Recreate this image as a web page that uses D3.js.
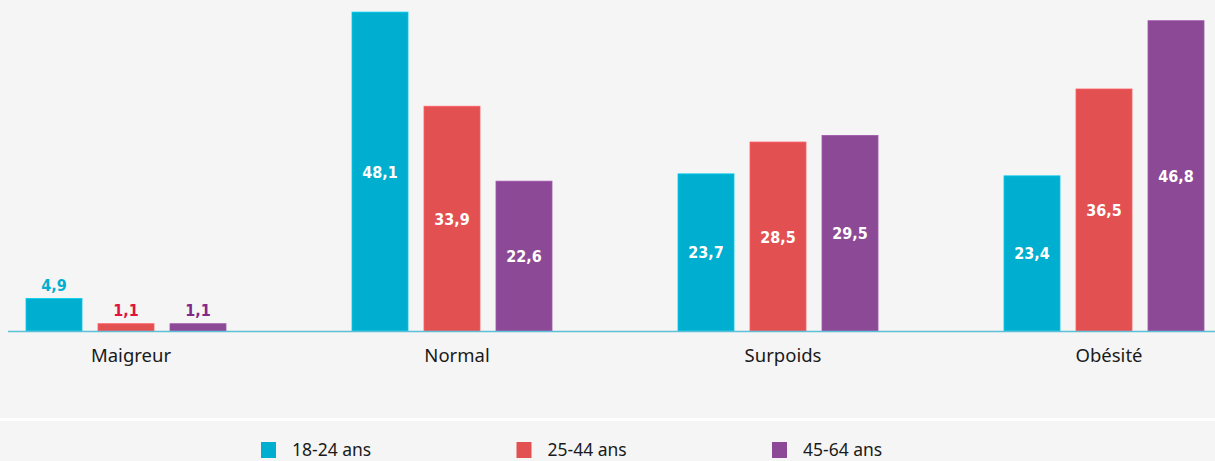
<!DOCTYPE html>
<html>
<head>
<meta charset="utf-8">
<script src="https://cdn.jsdelivr.net/npm/d3@7"></script>
<style>
  html, body { margin: 0; padding: 0; background: #f5f5f5; }
  svg { display: block; }
  .cat { font-family: "Noto Sans", "Open Sans", sans-serif; font-size: 18.5px; fill: #1a1a1a; }
  .val { font-family: "Liberation Sans Narrow", "DejaVu Sans Condensed", sans-serif; font-weight: bold; font-size: 16px; }
  .leg { font-family: "Noto Sans", "Open Sans", sans-serif; font-size: 17.5px; fill: #1a1a1a; }
</style>
</head>
<body>
<svg id="chart" width="1215" height="461"></svg>
<script>
// data
var categories = ["Maigreur", "Normal", "Surpoids", "Obésité"];
var series = ["18-24 ans", "25-44 ans", "45-64 ans"];
var v1824 = [4.9, 48.1, 23.7, 23.4];
var v2544 = [1.1, 33.9, 28.5, 36.5];
var v4564 = [1.1, 22.6, 29.5, 46.8];
var barColors = ["#00afcf", "#e35052", "#8c4a96"];
var labelColors = ["#00afcf", "#e0143f", "#82288a"];

var width = 1215, height = 461;
var baseY = 331;

var svg = d3.select("#chart");

// white separator above the legend
svg.append("rect").attr("x", 0).attr("y", 418).attr("width", width).attr("height", 3).attr("fill", "#ffffff");

var x0 = d3.scaleBand().domain(categories).range([26, 1204]).paddingInner(126 / 326).paddingOuter(0);
var x1 = d3.scaleBand().domain(series).range([0, x0.bandwidth()]).paddingInner(16 / 72).paddingOuter(0);
var y = d3.scaleLinear().domain([0, 50]).range([baseY, baseY - 50 * 6.63]);
var color = d3.scaleOrdinal().domain(series).range(barColors);
var lblColor = d3.scaleOrdinal().domain(series).range(labelColors);

var rows = categories.map(function (c, i) {
    return {cat: c, vals: [
        {s: series[0], v: v1824[i]},
        {s: series[1], v: v2544[i]},
        {s: series[2], v: v4564[i]}
    ]};
});

var groups = svg.selectAll("g.grp").data(rows).join("g")
    .attr("class", "grp")
    .attr("transform", function (d) { return "translate(" + x0(d.cat) + ",0)"; });

groups.selectAll("rect").data(function (d) { return d.vals; }).join("rect")
    .attr("x", function (d) { return x1(d.s); })
    .attr("y", function (d) { return y(d.v); })
    .attr("width", x1.bandwidth())
    .attr("height", function (d) { return baseY - y(d.v); })
    .attr("fill", function (d) { return color(d.s); })
    .attr("stroke", function (d) { return d3.color(color(d.s)).brighter(0.4); })
    .attr("stroke-width", 0.8);

// value labels: inside (white) for tall bars, above (coloured) for small ones
groups.selectAll("text.val").data(function (d) { return d.vals; }).join("text")
    .attr("class", "val")
    .attr("text-anchor", "middle")
    .attr("x", function (d) { return x1(d.s) + x1.bandwidth() / 2; })
    .attr("y", function (d) {
        if (d.v < 10) return y(d.v) - 8;
        return (y(d.v) + baseY) / 2 + 6;
    })
    .attr("fill", function (d) { return d.v < 10 ? lblColor(d.s) : "#ffffff"; })
    .text(function (d) { return String(d.v).replace(".", ","); });

// baseline
svg.append("line")
    .attr("x1", 8).attr("x2", width)
    .attr("y1", baseY + 0.5).attr("y2", baseY + 0.5)
    .attr("stroke", "#5ec0d6").attr("stroke-width", 1.5);

// category labels
svg.selectAll("text.cat").data(categories).join("text")
    .attr("class", "cat")
    .attr("text-anchor", "middle")
    .attr("x", function (d) { return x0(d) + x0.bandwidth() / 2 + 5; })
    .attr("y", 362)
    .text(function (d) { return d; });

// legend
var leg = svg.selectAll("g.leg").data(series).join("g")
    .attr("class", "leg")
    .attr("transform", function (d, i) { return "translate(" + (261 + i * 255.5) + ",442)"; });
leg.append("rect").attr("width", 15).attr("height", 16).attr("fill", function (d) { return color(d); });
leg.append("text").attr("class", "leg").attr("x", 31).attr("y", 13.5).text(function (d) { return d; });
</script>
</body>
</html>
